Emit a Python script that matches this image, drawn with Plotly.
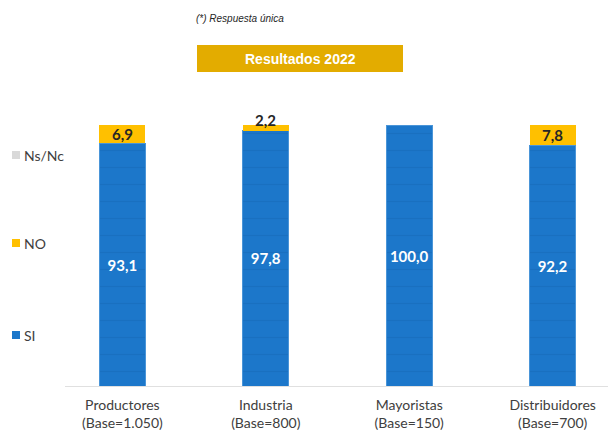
import plotly.graph_objects as go

categories = ["Productores<br>(Base=1.050)", "Industria<br>(Base=800)", "Mayoristas<br>(Base=150)", "Distribuidores<br>(Base=700)"]
si_values = [93.1, 97.8, 100.0, 92.2]
no_values = [6.9, 2.2, 0.0, 7.8]
nsnc_values = [0.0, 0.0, 0.0, 0.0]

BLUE = "#1C77CA"
GOLD = "#FFC000"
GRAY = "#D9D9D9"

def fmt(v):
    return f"{v:.1f}".replace(".", ",")

# page body has an 8px margin; design coordinates are in screen pixels
OFF = 8
W, H = 616, 432
ML = 65 - OFF
MR = 14
MT = 125 - OFF
MB = H - (386 - OFF)

def px_to_paper_x(px):
    return (px - OFF - ML) / (W - ML - MR)

def px_to_paper_y(py):
    return (H - MB - (py - OFF)) / (H - MT - MB)

fig = go.Figure()
fig.add_bar(x=categories, y=si_values, name="SI",
            marker=dict(color=BLUE, line=dict(width=1, color="#4A95D8"),
                        pattern=dict(shape="-", fgcolor="#0F5FA8", fgopacity=0.3, size=17, solidity=0.07)),
            text=[fmt(v) for v in si_values], textposition="inside", insidetextanchor="middle",
            textfont=dict(family="Lato", size=15, color="white", weight="bold"), width=0.32)
fig.add_bar(x=categories, y=no_values, name="NO", marker=dict(color=GOLD, line=dict(width=0)), width=0.32)
fig.add_bar(x=categories, y=nsnc_values, name="Ns/Nc", marker=dict(color=GRAY, line=dict(width=0)), width=0.32)

annotations = []
for i, (s, n) in enumerate(zip(si_values, no_values)):
    if n <= 0:
        continue
    if n >= 5:
        annotations.append(dict(x=i, y=s + n / 2, xref="x", yref="y", text=fmt(n), showarrow=False,
                                font=dict(family="Lato", size=15, color="#262626", weight="bold")))
    else:
        annotations.append(dict(x=i, y=s + n, xref="x", yref="y", text=fmt(n), showarrow=False,
                                yanchor="bottom", yshift=-6,
                                font=dict(family="Lato", size=15, color="#262626", weight="bold")))

legend_items = [("Ns/Nc", GRAY, 155), ("NO", GOLD, 243), ("SI", BLUE, 335)]

shapes = []
for label, col, py in legend_items:
    shapes.append(dict(type="rect", xref="paper", yref="paper",
                       x0=px_to_paper_x(12), x1=px_to_paper_x(20),
                       y0=px_to_paper_y(py + 4), y1=px_to_paper_y(py - 4),
                       fillcolor=col, line=dict(width=0)))
    annotations.append(dict(x=px_to_paper_x(22), y=px_to_paper_y(py), xref="paper", yref="paper",
                            text=label, showarrow=False, xanchor="left", yanchor="middle",
                            font=dict(family="Lato", size=14, color="#404040")))

# title box
shapes.append(dict(type="rect", xref="paper", yref="paper",
                   x0=px_to_paper_x(197), x1=px_to_paper_x(403),
                   y0=px_to_paper_y(72), y1=px_to_paper_y(45),
                   fillcolor="#E3AC00", line=dict(width=0)))
annotations.append(dict(x=px_to_paper_x(300), y=px_to_paper_y(58.5), xref="paper", yref="paper",
                        text="<b>Resultados 2022</b>", showarrow=False, xanchor="center", yanchor="middle",
                        font=dict(family="Liberation Sans", size=14, color="white")))
annotations.append(dict(x=px_to_paper_x(240), y=px_to_paper_y(19), xref="paper", yref="paper",
                        text="<i>(*) Respuesta única</i>", showarrow=False, xanchor="center", yanchor="middle",
                        font=dict(family="Liberation Sans", size=10, color="#262626")))

fig.update_layout(
    width=W, height=H, barmode="stack", showlegend=False,
    margin=dict(l=ML, r=MR, t=MT, b=MB),
    paper_bgcolor="white", plot_bgcolor="white",
    separators=",.",
    annotations=annotations, shapes=shapes,
    xaxis=dict(range=[-0.4, 3.4], showline=True, linecolor="#E0E0E0", linewidth=1,
               ticks="", showgrid=False, ticklabelstandoff=6, automargin=False,
               tickfont=dict(family="Lato", size=14, color="#404040")),
    yaxis=dict(range=[0, 100], visible=False, automargin=False),
)
fig.update_traces(cliponaxis=False)
fig.write_html("out.html")
